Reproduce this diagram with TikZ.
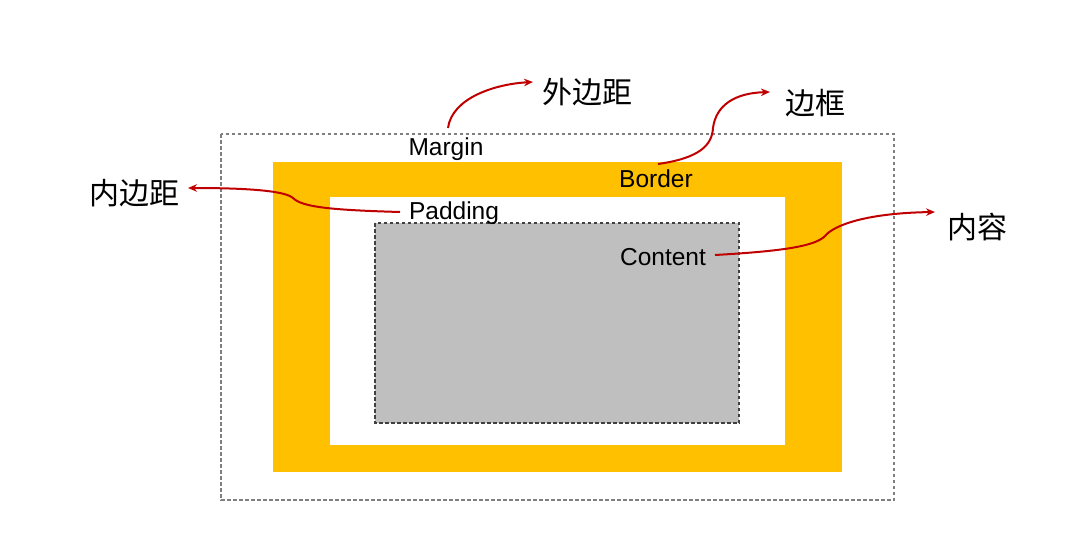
\documentclass[tikz,border=0pt]{standalone}
\usepackage{fontspec}
\setmainfont{Liberation Sans}
\newfontfamily\cjk{Noto Sans CJK SC}
\usetikzlibrary{arrows.meta}
\definecolor{boxorange}{HTML}{FFC000}
\definecolor{boxgray}{HTML}{BFBFBF}
\definecolor{arrred}{HTML}{C00000}
\definecolor{dashgray}{HTML}{7F7F7F}
\definecolor{dashdark}{HTML}{404040}
\tikzset{
  en/.style={inner sep=0pt, font=\fontsize{24.5}{28}\selectfont},
  zh/.style={inner sep=0pt, font=\cjk\fontsize{30}{34}\selectfont},
  redarrow/.style={draw=arrred, line width=2pt, -{Stealth[length=9pt,width=7.5pt]}},
}
\begin{document}
\begin{tikzpicture}[x=1pt,y=-1pt]
\useasboundingbox (0,0) rectangle (1072,535);
% boxes
\draw[dashgray, line width=1.3pt, dash pattern=on 3.5pt off 2.5pt] (221,134) rectangle (894,500);
\fill[boxorange] (273,162) rectangle (842,472);
\fill[white] (330,197) rectangle (785,445);
\filldraw[fill=boxgray, draw=dashdark, line width=1.2pt, dash pattern=on 3.5pt off 2.5pt] (375,223) rectangle (739,423);
% texts
\node[en] (margin) at (446,149) {Margin};
\node[en] (border) at (656,179) {Border};
\node[en] (padding) at (454,213) {Padding};
\node[en] (content) at (663,257) {Content};
\node[zh] (waibianju) at (587,92) {外边距};
\node[zh] (biankuang) at (815,103) {边框};
\node[zh] (neibianju) at (134,193) {内边距};
\node[zh] (neirong) at (977,227) {内容};
% arrow end points
\coordinate (m0) at (448,128);
\coordinate (m1) at (533,82);
\coordinate (b0) at (658,164);
\coordinate (b1) at (770,92);
\coordinate (p0) at (400,212);
\coordinate (p1) at (188,188);
\coordinate (c0) at (715,255);
\coordinate (c1) at (935,212);
% arrows
\draw[redarrow] (m0) .. controls (452,98) and (495,84) .. (m1);
\draw[redarrow] (b0) .. controls (700,158) and (712,145) .. (713,128)
  .. controls (716,105) and (735,93) .. (b1);
\draw[redarrow] (p0) .. controls (330,210) and (302,207) .. (293,198)
  .. controls (285,191) and (250,188) .. (p1);
\draw[redarrow] (c0) .. controls (785,251) and (815,246) .. (825,236)
  .. controls (835,224) and (870,213) .. (c1);
\end{tikzpicture}
\end{document}
